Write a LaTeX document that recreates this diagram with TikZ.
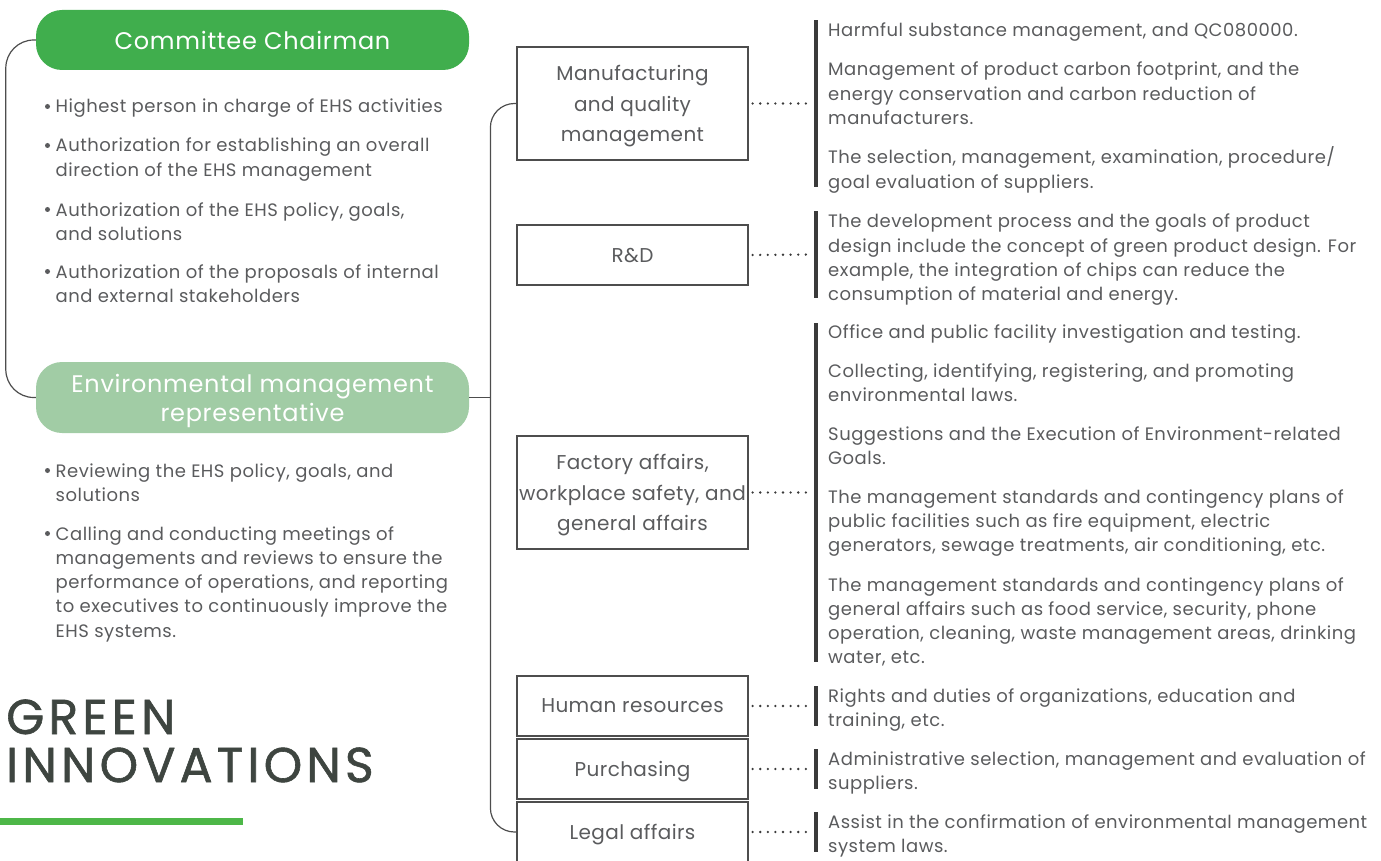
\documentclass[tikz,border=0pt]{standalone}
\usepackage{fontspec}
\setmainfont{Poppins}
\usepackage{tikz}

\definecolor{chairgreen}{HTML}{40AE4D}
\definecolor{repgreen}{HTML}{A1CCA5}
\definecolor{txtgray}{HTML}{5A5B5D}
\definecolor{linegray}{HTML}{4D4D4D}
\definecolor{bargray}{HTML}{3A3A3A}
\definecolor{titlegray}{HTML}{3E4540}
\definecolor{accentgreen}{HTML}{4DB748}

% lines of a note, first baseline on top
\newcommand{\lns}[1]{\begin{tabular}[t]{@{}l@{}}#1\end{tabular}}

\begin{document}
\begin{tikzpicture}[x=1pt, y=-1pt,
  role/.style={rounded corners=26pt, minimum width=433pt, inner sep=0pt, text depth=-1.5pt,
    text=white, align=center, font=\fontsize{24}{29}\selectfont\addfontfeature{LetterSpace=3}},
  dept/.style={draw=linegray, line width=1.2pt, minimum width=231pt, inner sep=0pt, text depth=0pt,
    text=txtgray, align=center, font=\fontsize{20}{30.5}\selectfont\addfontfeature{LetterSpace=2}},
  bar/.style={fill=bargray, minimum width=4pt, inner sep=0pt},
  note/.style={anchor=base west, inner sep=0pt, text=txtgray,
    font=\fontsize{18}{24.3}\selectfont\addfontfeature{LetterSpace=2.8}},
  dotline/.style={draw=bargray, line width=2.6pt, line cap=round, dash pattern=on 0pt off 7.6pt}]
  \useasboundingbox (0,0) rectangle (1381,861);

  % Left column: roles
  \node[role, fill=chairgreen, minimum height=60pt] (chair) at (252.5,40) {Committee Chairman};
  \node[role, fill=repgreen, minimum height=71pt] (envrep) at (252.5,397.5)
    {Environmental management\\representative};
  \draw[linegray, line width=1.2pt, rounded corners=28pt] (chair.west) -- ++(-30,0) |- (envrep.west);

  \foreach \y in {113,152,216,278,477,540}
    \fill[txtgray] (47.5,\y-6.5) circle (2.5pt);
  \node[note] (c1) at (55.5,113) {\lns{Highest person in charge of EHS activities}};
  \node[note] (c2) at (55.5,152) {\lns{Authorization for establishing an overall\\direction of the EHS management}};
  \node[note] (c3) at (55.5,216) {\lns{Authorization of the EHS policy, goals,\\and solutions}};
  \node[note] (c4) at (55.5,278) {\lns{Authorization of the proposals of internal\\and external stakeholders}};
  \node[note] (r1) at (55.5,477) {\lns{Reviewing the EHS policy, goals, and\\solutions}};
  \node[note] (r2) at (55.5,540) {\lns{Calling and conducting meetings of\\managements and reviews to ensure the\\performance of operations, and reporting\\to executives to continuously improve the\\EHS systems.}};

  % Title
  \node[anchor=base west, inner sep=0pt, text=titlegray,
    font=\fontsize{49}{45}\selectfont\addfontfeature{LetterSpace=8.5,FakeBold=1.2}] (title) at (6,734)
    {\lns{GREEN\\INNOVATIONS}};
  \fill[accentgreen] (0,818) rectangle (243,824.5);

  % Departments
  \node[dept, minimum height=113pt] (mfg) at (632.5,103.5) {Manufacturing\\and quality\\management};
  \node[dept, minimum height=60pt] (rd) at (632.5,255) {R\&D};
  \node[dept, minimum height=113pt] (fac) at (632.5,492.5) {Factory affairs,\\workplace safety, and\\general affairs};
  \node[dept, minimum height=60pt] (hr) at (632.5,706) {Human resources};
  \node[dept, minimum height=60pt] (pur) at (632.5,769) {Purchasing};
  \node[dept, minimum height=60pt] (legal) at (632.5,832) {Legal affairs};
  \coordinate (trunk) at (491,397.5);
  \draw[linegray, line width=1.2pt] (envrep.east) -- (trunk);
  \draw[linegray, line width=1.2pt, rounded corners=24pt] (mfg.west) -- ++(-26,0) |- (legal.west);

  % Bars and dotted links
  \node[bar, minimum height=167pt] (b1) at (816,103.5) {};
  \node[bar, minimum height=87pt] (b2) at (816,254.5) {};
  \node[bar, minimum height=339pt] (b3) at (816,492.5) {};
  \node[bar, minimum height=40pt] (b4) at (816,706) {};
  \node[bar, minimum height=40pt] (b5) at (816,769) {};
  \node[bar, minimum height=40pt] (b6) at (816,832) {};
  \foreach \d/\b in {mfg/b1, rd/b2, fac/b3, hr/b4, pur/b5, legal/b6}
    \draw[dotline] ([xshift=4pt]\d.east) -- ([xshift=-3pt]\b.west);

  % Notes
  \node[note] (n11) at (828,37) {\lns{Harmful substance management, and QC080000.}};
  \node[note] (n12) at (828,76) {\lns{Management of product carbon footprint, and the\\energy conservation and carbon reduction of\\manufacturers.}};
  \node[note] (n13) at (828,164) {\lns{The selection, management, examination, procedure/\\goal evaluation of suppliers.}};
  \node[note] (n21) at (828,228) {\lns{The development process and the goals of product\\design include the concept of green product design. For\\example, the integration of chips can reduce the\\consumption of material and energy.}};
  \node[note] (n31) at (828,338) {\lns{Office and public facility investigation and testing.}};
  \node[note] (n32) at (828,377) {\lns{Collecting, identifying, registering, and promoting\\environmental laws.}};
  \node[note] (n33) at (828,440) {\lns{Suggestions and the Execution of Environment-related\\Goals.}};
  \node[note] (n34) at (828,503) {\lns{The management standards and contingency plans of\\public facilities such as fire equipment, electric\\generators, sewage treatments, air conditioning, etc.}};
  \node[note] (n35) at (828,591) {\lns{The management standards and contingency plans of\\general affairs such as food service, security, phone\\operation, cleaning, waste management areas, drinking\\water, etc.}};
  \node[note] (n41) at (828,702) {\lns{Rights and duties of organizations, education and\\training, etc.}};
  \node[note] (n51) at (828,765) {\lns{Administrative selection, management and evaluation of\\suppliers.}};
  \node[note] (n61) at (828,828) {\lns{Assist in the confirmation of environmental management\\system laws.}};
\end{tikzpicture}
\end{document}
